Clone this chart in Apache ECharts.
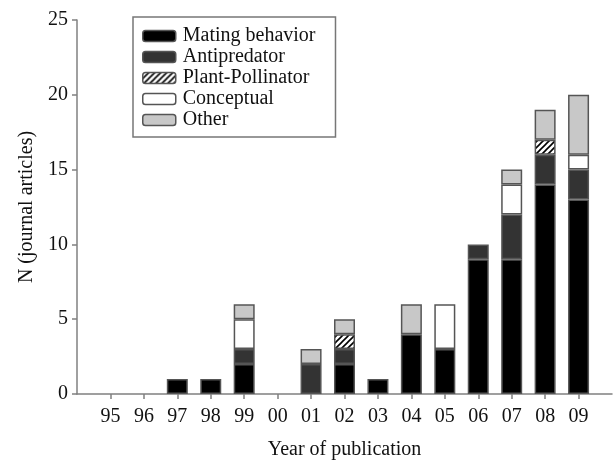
<!DOCTYPE html>
<html><head><meta charset="utf-8">
<script src="https://cdn.jsdelivr.net/npm/echarts@6/dist/echarts.min.js"></script>
<style>html,body{margin:0;padding:0;background:#fff}#c{width:613px;height:460px}</style>
</head><body><div id="c"></div>
<script>
// padding categories '' at both ends keep the axis extent of the original
var years = ['', '95','96','97','98','99','00','01','02','03','04','05','06','07','08','09', ''];
var mating     = [null, 0,0,1,1,2,0,0,2,1,4,3,9,9,14,13, null];
var antipred   = [null, 0,0,0,0,1,0,2,1,0,0,0,1,3,2,2, null];
var plantPoll  = [null, 0,0,0,0,0,0,0,1,0,0,0,0,0,1,0, null];
var conceptual = [null, 0,0,0,0,2,0,0,0,0,0,3,0,2,0,1, null];
var other      = [null, 0,0,0,0,1,0,1,1,0,2,0,0,1,2,4, null];
var yTicks = [0,5,10,15,20,25];

var pc = document.createElement('canvas');
pc.width = 6; pc.height = 6;
var g = pc.getContext('2d');
g.fillStyle = '#fff'; g.fillRect(0,0,6,6);
g.strokeStyle = '#000'; g.lineWidth = 1.6;
g.beginPath();
g.moveTo(-1,7); g.lineTo(7,-1);
g.moveTo(-4,4); g.lineTo(4,-4);
g.moveTo(2,10); g.lineTo(10,2);
g.stroke();
var hatch = {image: pc, repeat: 'repeat'};

var font = 'Liberation Serif';
var fs = 20;
function ser(name, data, color){
  return {name:name, type:'bar', stack:'a', data:data.map(function(v){return v===0?null:v;}), barWidth:21,
    itemStyle:{color:color, borderColor:'#555', borderWidth:1.5}};
}
var chart = echarts.init(document.getElementById('c'), null, {renderer:'canvas'});
chart.setOption({
  animation:false,
  textStyle:{fontFamily:font},
  grid:{left:77, right:1, top:20, bottom:66, containLabel:false, outerBoundsMode:'none'},
  legend:{
    orient:'vertical', left:133, top:17,
    padding:[9,20,7,9],
    itemWidth:33, itemHeight:11, itemGap:1,
    borderColor:'#777', borderWidth:1.5,
    textStyle:{fontFamily:font, fontSize:fs, color:'#111', padding:[0,0,0,2]},
    itemStyle:{borderColor:'#555', borderWidth:1.5},
    data:['Mating behavior','Antipredator','Plant-Pollinator','Conceptual','Other']
  },
  xAxis:{
    type:'category', data:years, boundaryGap:false,
    name:'Year of publication', nameLocation:'middle', nameGap:46,
    nameTextStyle:{fontFamily:font, fontSize:fs, color:'#111'},
    axisLine:{lineStyle:{color:'#808080', width:1.5}},
    axisTick:{show:true, length:5, inside:false, interval:function(i,v){return v!=='';}, lineStyle:{color:'#808080', width:1.5}},
    axisLabel:{fontFamily:font, fontSize:fs, color:'#111', margin:13, interval:0},
    splitLine:{show:false}
  },
  yAxis:{
    type:'value', min:yTicks[0], max:yTicks[yTicks.length-1], interval:5,
    name:'N (journal articles)', nameLocation:'middle', nameGap:39,
    nameTextStyle:{fontFamily:font, fontSize:fs, color:'#111'},
    axisLine:{show:true, lineStyle:{color:'#808080', width:1.5}},
    axisTick:{show:true, length:5, lineStyle:{color:'#808080', width:1.5}},
    axisLabel:{fontFamily:font, fontSize:fs, color:'#111', margin:9},
    splitLine:{show:false}
  },
  series:[
    ser('Mating behavior', mating, '#000'),
    ser('Antipredator', antipred, '#333'),
    ser('Plant-Pollinator', plantPoll, hatch),
    ser('Conceptual', conceptual, '#fff'),
    ser('Other', other, '#c8c8c8')
  ]
});
</script></body></html>
